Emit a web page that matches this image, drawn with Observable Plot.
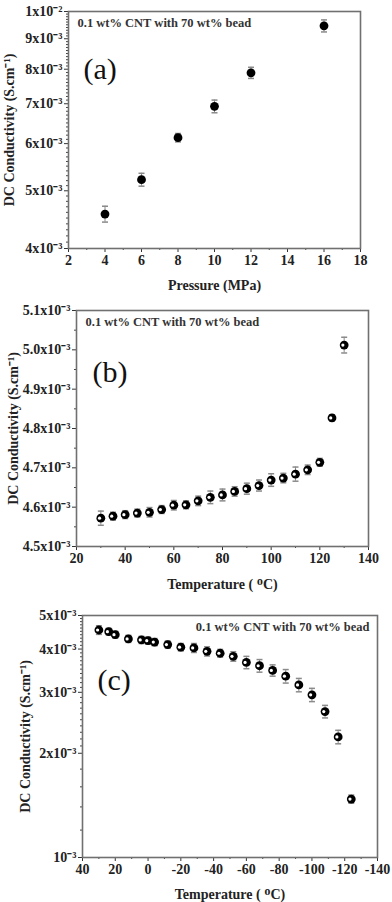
<!DOCTYPE html>
<html><head><meta charset="utf-8">
<script src="https://cdn.jsdelivr.net/npm/d3@7"></script>
<script src="https://cdn.jsdelivr.net/npm/@observablehq/plot@0.6"></script>
<style>
body{margin:0;background:#fff;}
#wrap{width:392px;}
#wrap svg{display:block;}
</style></head><body><div id="wrap"></div>
<script>
const annotation = "0.1 wt% CNT with 70 wt% bead";
const yLabel = "DC Conductivity (S.cm\u207B\u00B9)";

// Panel (a)
const pressure = [4, 6, 8, 10, 12, 16];
const condA = [4.57e-3, 5.22e-3, 6.14e-3, 6.93e-3, 7.89e-3, 9.46e-3];
const errA = [0.14e-3, 0.13e-3, 0.10e-3, 0.17e-3, 0.17e-3, 0.22e-3];
const ticksAY = [4e-3, 5e-3, 6e-3, 7e-3, 8e-3, 9e-3, 1e-2];
const labelsAY = ["4x10\u207B\u00B3","5x10\u207B\u00B3","6x10\u207B\u00B3","7x10\u207B\u00B3","8x10\u207B\u00B3","9x10\u207B\u00B3","1x10\u207B\u00B2"];
const ticksAX = [2, 4, 6, 8, 10, 12, 14, 16, 18];

// Panel (b)
const tempB = [30, 35, 40, 45, 50, 55, 60, 65, 70, 75, 80, 85, 90, 95, 100, 105, 110, 115, 120, 125, 130];
const condB = [4.572e-3, 4.577e-3, 4.581e-3, 4.585e-3, 4.587e-3, 4.594e-3, 4.605e-3, 4.606e-3, 4.616e-3, 4.625e-3, 4.631e-3, 4.640e-3, 4.647e-3, 4.655e-3, 4.669e-3, 4.674e-3, 4.684e-3, 4.695e-3, 4.714e-3, 4.827e-3, 5.012e-3];
const errB = [0.018e-3, 0.010e-3, 0.010e-3, 0.010e-3, 0.012e-3, 0.010e-3, 0.012e-3, 0.010e-3, 0.012e-3, 0.016e-3, 0.015e-3, 0.012e-3, 0.014e-3, 0.014e-3, 0.016e-3, 0.012e-3, 0.018e-3, 0.012e-3, 0.010e-3, 0.008e-3, 0.020e-3];
const ticksBY = [4.5e-3, 4.6e-3, 4.7e-3, 4.8e-3, 4.9e-3, 5.0e-3, 5.1e-3];
const labelsBY = ["4.5x10\u207B\u00B3","4.6x10\u207B\u00B3","4.7x10\u207B\u00B3","4.8x10\u207B\u00B3","4.9x10\u207B\u00B3","5.0x10\u207B\u00B3","5.1x10\u207B\u00B3"];
const ticksBX = [20, 40, 60, 80, 100, 120, 140];

// Panel (c)
const tempC = [30, 24, 20, 12, 4, 0, -4, -12, -20, -28, -36, -44, -52, -60, -68, -76, -84, -92, -100, -108, -116, -124];
const condC = [4.54e-3, 4.49e-3, 4.40e-3, 4.28e-3, 4.25e-3, 4.23e-3, 4.19e-3, 4.12e-3, 4.05e-3, 4.03e-3, 3.94e-3, 3.89e-3, 3.81e-3, 3.66e-3, 3.58e-3, 3.47e-3, 3.34e-3, 3.15e-3, 2.95e-3, 2.64e-3, 2.23e-3, 1.475e-3];
const errC = [0.13e-3, 0.10e-3, 0.10e-3, 0.10e-3, 0.10e-3, 0.10e-3, 0.10e-3, 0.10e-3, 0.10e-3, 0.12e-3, 0.12e-3, 0.10e-3, 0.12e-3, 0.15e-3, 0.15e-3, 0.13e-3, 0.15e-3, 0.14e-3, 0.13e-3, 0.11e-3, 0.10e-3, 0.04e-3];
const ticksCY = [1e-3, 2e-3, 3e-3, 4e-3, 5e-3];
const labelsCY = ["10\u207B\u00B3","2x10\u207B\u00B3","3x10\u207B\u00B3","4x10\u207B\u00B3","5x10\u207B\u00B3"];
const ticksCX = [40, 20, 0, -20, -40, -60, -80, -100, -120, -140];

const capSymbol = {draw(ctx, size){ const r = Math.sqrt(size/Math.PI); ctx.moveTo(-r,0); ctx.lineTo(r,0); }};

const FONT = "'Liberation Serif','Times New Roman',serif";

function panel(o) {
  const rows = o.x.map((x,i)=>({x, y:o.y[i], lo:o.y[i]-o.err[i], hi:o.y[i]+o.err[i]}));
  const markers = o.half ? [
    Plot.dot(rows, {x:"x", y:"y", r:4.4, fill:"black", stroke:"none"}),
    Plot.dot(rows, {x:"x", y:"y", r:1.6, dx:-1.3, fill:"white", stroke:"none"})
  ] : [
    Plot.dot(rows, {x:"x", y:"y", r:4.4, fill:"black", stroke:"none"})
  ];
  return Plot.plot({
    width:392, height:o.height,
    marginLeft:o.ml, marginRight:o.mr, marginTop:o.mt, marginBottom:o.mb,
    style:{fontFamily:FONT, fontWeight:"bold", fontSize:"14px", color:"#222", background:"#fff", overflow:"visible"},
    x:{domain:o.xDomain},
    y:{type:o.yType, domain:o.yDomain},
    marks:[
      Plot.axisY({ticks:o.yMinor, tickSize:2, tickFormat:()=>"", label:null, stroke:"#444"}),
      Plot.axisY({ticks:o.yTicks, tickSize:4, tickPadding:2, tickFormat:d=>o.yLabels[o.yTicks.indexOf(d)], stroke:"#333",
        label:yLabel, labelAnchor:"center", labelArrow:"none", labelOffset:o.ylo, fontSize:14}),
      Plot.axisX({ticks:o.xMinor, tickSize:2, tickFormat:()=>"", label:null, stroke:"#444"}),
      Plot.axisX({ticks:o.xTicks, tickSize:4, tickPadding:3, tickFormat:d=>String(d), stroke:"#333",
        label:o.xLabel, labelAnchor:"center", labelArrow:"none", labelOffset:o.xlo, fontSize:14}),
      Plot.frame({stroke:"#707070", strokeWidth:1.6}),
      Plot.ruleX(rows, {x:"x", y1:"lo", y2:"hi", stroke:"#8a8a8a", strokeWidth:1}),
      Plot.dot(rows, {x:"x", y:"lo", r:3, symbol:capSymbol, stroke:"#8a8a8a", fill:"none"}),
      Plot.dot(rows, {x:"x", y:"hi", r:3, symbol:capSymbol, stroke:"#8a8a8a", fill:"none"}),
      ...markers,
      Plot.text([annotation], {frameAnchor:o.annAnchor, dx:o.annDx, dy:o.annDy, fontSize:12.5, fill:"#333"}),
      Plot.text([o.tag], {frameAnchor:"top-left", dx:o.tagDx, dy:o.tagDy, fontSize:30, fontWeight:"normal", fill:"#111"})
    ]
  });
}

const wrap = document.getElementById("wrap");

wrap.append(panel({
  height:300, ml:68, mr:32, mt:11, mb:52,
  x:pressure, y:condA, err:errA, half:false,
  xDomain:[2,18], yDomain:[4e-3,1e-2], yType:"log",
  yTicks:ticksAY, yLabels:labelsAY, yMinor:d3.range(41,100).map(v=>v*1e-4).filter(v=>Math.round(v*1e4)%10!==0),
  xTicks:ticksAX, xMinor:d3.range(3,18,2),
  xLabel:"Pressure (MPa)", ylo:64, xlo:41,
  annAnchor:"top-left", annDx:9, annDy:7,
  tag:"(a)", tagDx:15, tagDy:46
}));

wrap.append(panel({
  height:300, ml:76, mr:24, mt:10, mb:54,
  x:tempB, y:condB, err:errB, half:true,
  xDomain:[20,140], yDomain:[4.5e-3,5.1e-3], yType:"linear",
  yTicks:ticksBY, yLabels:labelsBY, yMinor:d3.range(0,6).map(i=>4.55e-3+i*1e-4),
  xTicks:ticksBX, xMinor:d3.range(30,140,20),
  xLabel:"Temperature ( \u1D3CC)", ylo:68, xlo:42,
  annAnchor:"top-left", annDx:9, annDy:7,
  tag:"(b)", tagDx:16, tagDy:50
}));

wrap.append(panel({
  height:302, ml:82, mr:15, mt:15, mb:45,
  x:tempC, y:condC, err:errC, half:true,
  xDomain:[40,-140], yDomain:[1e-3,5e-3], yType:"log",
  yTicks:ticksCY, yLabels:labelsCY,
  yMinor:[1.2e-3,1.4e-3,1.6e-3,1.8e-3].concat(d3.range(21,50).map(v=>v*1e-4).filter(v=>Math.round(v*1e4)%10!==0)),
  xTicks:ticksCX, xMinor:d3.range(30,-140,-20),
  xLabel:"Temperature ( \u1D3CC)", ylo:62, xlo:41,
  annAnchor:"top-right", annDx:-8, annDy:7,
  tag:"(c)", tagDx:15, tagDy:53
}));
</script>
</body></html>
